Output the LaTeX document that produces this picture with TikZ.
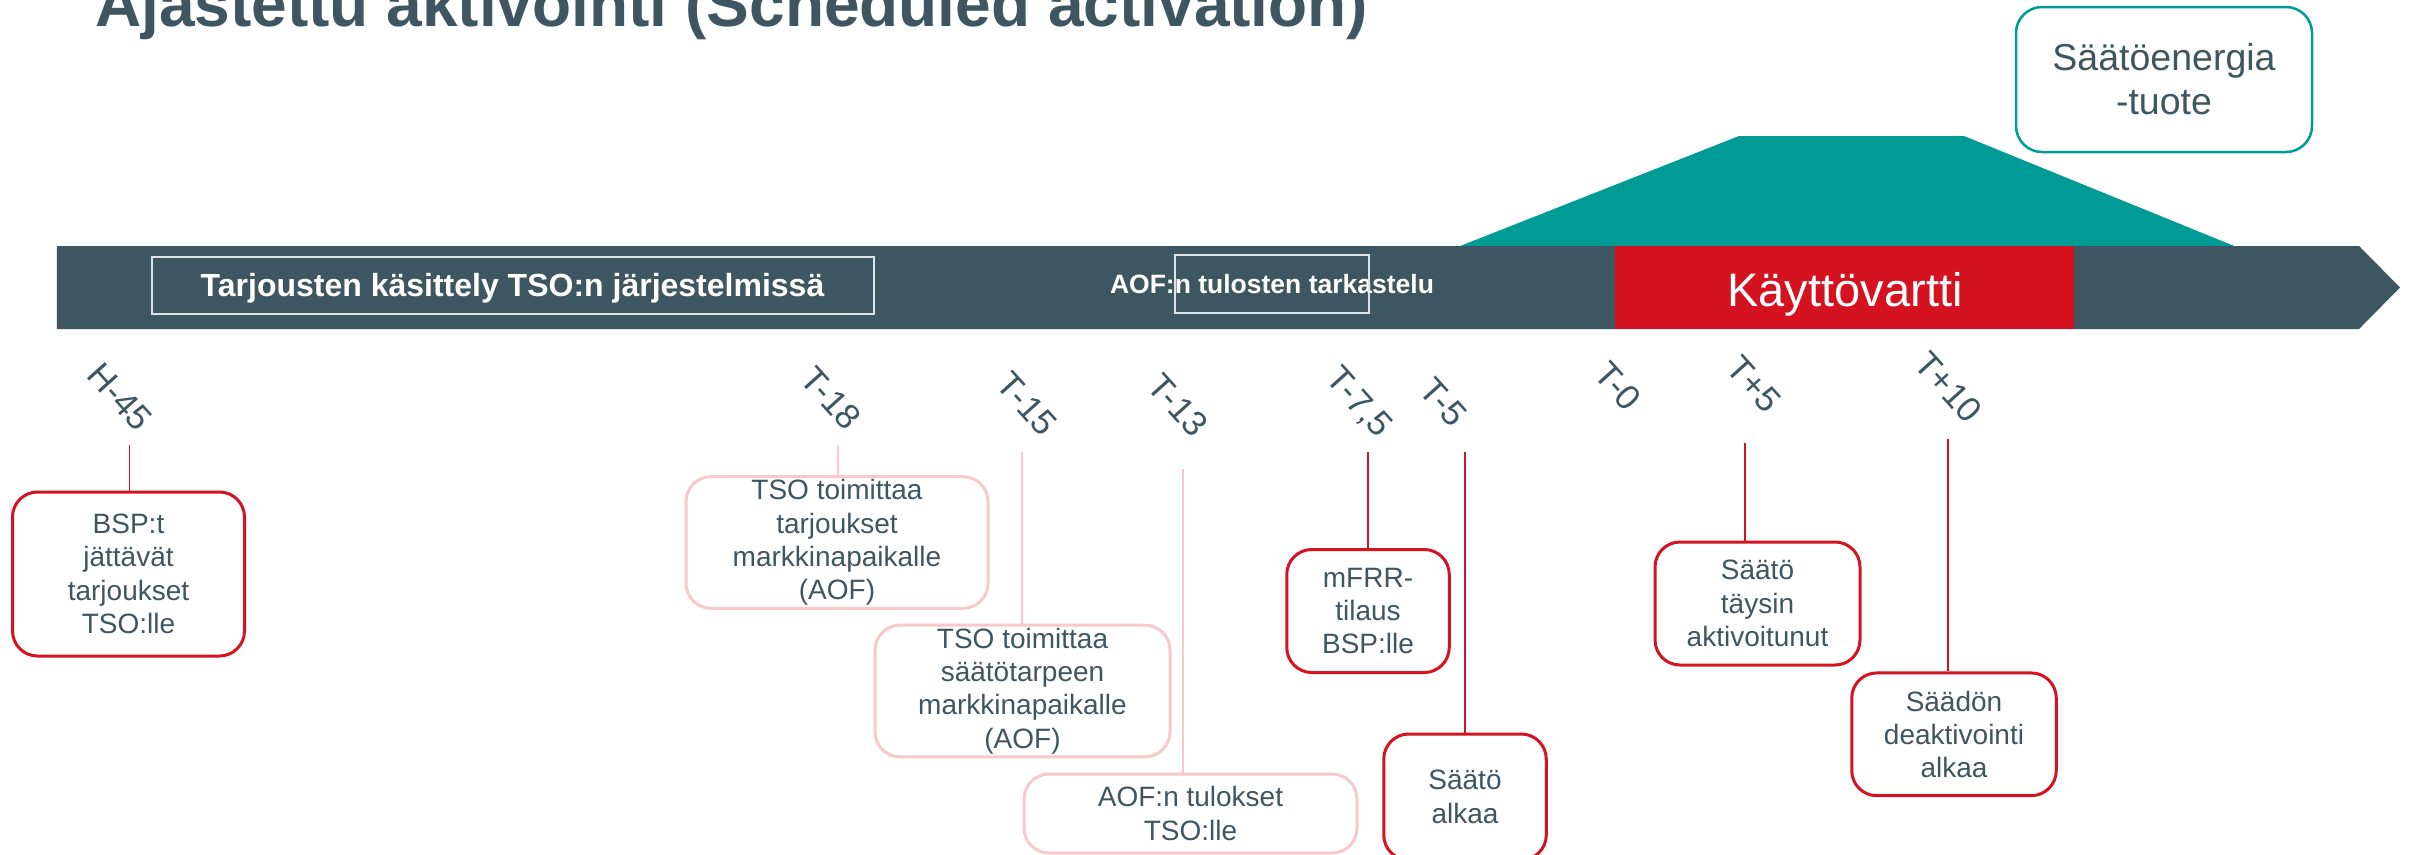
\documentclass[tikz,border=0pt]{standalone}
\usepackage{fontspec}
\setmainfont{Liberation Sans}
\definecolor{slate}{RGB}{62,86,97}
\definecolor{mred}{RGB}{213,18,31}
\definecolor{tealc}{RGB}{0,155,149}
\definecolor{pinkb}{RGB}{249,200,202}
\definecolor{frameg}{RGB}{222,228,232}
\begin{document}
\begin{tikzpicture}[x=1pt,y=-1pt,
  redbox/.style={draw=mred, line width=3pt, rounded corners=25pt, fill=white, inner sep=0pt, align=center, text=slate, font=\fontsize{28}{33.3}\selectfont},
  pinkbox/.style={redbox, draw=pinkb},
  tealbox/.style={redbox, draw=tealc, line width=2.5pt, rounded corners=26pt, font=\fontsize{37.5}{44}\selectfont},
  redline/.style={draw=mred, line width=1.6pt},
  pinkline/.style={draw=pinkb, line width=1.6pt},
  ticklabel/.style={text=slate, font=\fontsize{35}{40}\selectfont, rotate=-48, inner sep=0pt},
  barframe/.style={draw=frameg, line width=2pt, inner sep=0pt},
  bartext/.style={text=white, font=\bfseries\fontsize{32}{38}\selectfont, inner sep=0pt, anchor=base},
]
\useasboundingbox (0,0) rectangle (2409,854);
\clip (0,0) rectangle (2409,854);
\fill[white] (0,0) rectangle (2409,854);

% title
\node[anchor=base west, inner sep=0pt, text=slate, font=\bfseries\fontsize{64}{74}\selectfont] (title) at (95,26) {Ajastettu aktivointi (Scheduled activation)};

% teal product shape
\fill[tealc] (1450,250) -- (1739,136) -- (1964,136) -- (2244,250) -- cycle;

% timeline bar
\fill[slate] (56.8,246) -- (2359,246) -- (2400,287.5) -- (2359,329) -- (56.8,329) -- cycle;
\fill[mred] (1615,246) rectangle (2074,329);

% bar texts
\node[barframe, minimum width=722pt, minimum height=57.6pt] (tframe) at (513,285.5) {};
\node[bartext] (ttext) at (512.5,296.7) {Tarjousten käsittely TSO:n järjestelmissä};
\node[bartext, font=\bfseries\fontsize{26.5}{32}\selectfont] (atext) at (1272,293.3) {AOF:n tulosten tarkastelu};
\node[barframe, minimum width=194pt, minimum height=58pt] (aframe) at (1272,284) {};
\node[anchor=base, inner sep=0pt, text=white, font=\fontsize{47}{54}\selectfont] (ktext) at (1845,306) {Käyttövartti};

% product box
\node[tealbox, minimum width=296pt, minimum height=145pt] (prod) at (2164,79.5) {Säätöenergia\\-tuote};

% tick labels
\node[ticklabel] (lH45) at (120,397) {H-45};
\node[ticklabel] (lT18) at (831,398) {T-18};
\node[ticklabel] (lT15) at (1027,404) {T-15};
\node[ticklabel] (lT13) at (1178,405) {T-13};
\node[ticklabel] (lT75) at (1358,403) {T-7,5};
\node[ticklabel] (lT5) at (1443,402) {T-5};
\node[ticklabel] (lT0) at (1618,386) {T-0};
\node[ticklabel] (lTp5) at (1753.5,384) {T+5};
\node[ticklabel] (lTp10) at (1948,387) {T+10};

% boxes
\node[redbox, minimum width=232pt, minimum height=164pt] (bsp) at (128.5,574) {BSP:t\\jättävät\\tarjoukset\\TSO:lle};
\node[pinkbox, minimum width=302pt, minimum height=131.6pt] (tso1) at (837,542.5) {TSO toimittaa\\tarjoukset\\markkinapaikalle\\(AOF)};
\node[pinkbox, minimum width=295pt, minimum height=131.7pt] (tso2) at (1022.5,691) {TSO toimittaa\\säätötarpeen\\markkinapaikalle\\(AOF)};
\node[pinkbox, minimum width=333pt, minimum height=79pt] (aof) at (1190.5,813.5) {AOF:n tulokset\\TSO:lle};
\node[redbox, minimum width=162.5pt, minimum height=123pt] (mfrr) at (1368,611) {mFRR-\\tilaus\\BSP:lle};
\node[redbox, minimum width=162.5pt, minimum height=126pt] (saato) at (1465,797) {Säätö\\alkaa};
\node[redbox, minimum width=205pt, minimum height=123pt] (taysin) at (1757.5,603.5) {Säätö\\täysin\\aktivoitunut};
\node[redbox, minimum width=204.5pt, minimum height=122.7pt] (deakt) at (1954,734.3) {Säädön\\deaktivointi\\alkaa};

% connectors
\coordinate (cH45) at (129.5,445);
\coordinate (cT18) at (838,445);
\coordinate (cT15) at (1022,452);
\coordinate (cT13) at (1183,469);
\coordinate (cT75) at (1368,452);
\coordinate (cT5) at (1465,452);
\coordinate (cTp5) at (1745,443);
\coordinate (cTp10) at (1948,439);
\draw[redline] (cH45) -- (cH45 |- bsp.north);
\draw[pinkline] (cT18) -- (cT18 |- tso1.north);
\draw[pinkline] (cT15) -- (cT15 |- tso2.north);
\draw[pinkline] (cT13) -- (cT13 |- aof.north);
\draw[redline] (cT75) -- (cT75 |- mfrr.north);
\draw[redline] (cT5) -- (cT5 |- saato.north);
\draw[redline] (cTp5) -- (cTp5 |- taysin.north);
\draw[redline] (cTp10) -- (cTp10 |- deakt.north);
\end{tikzpicture}
\end{document}
